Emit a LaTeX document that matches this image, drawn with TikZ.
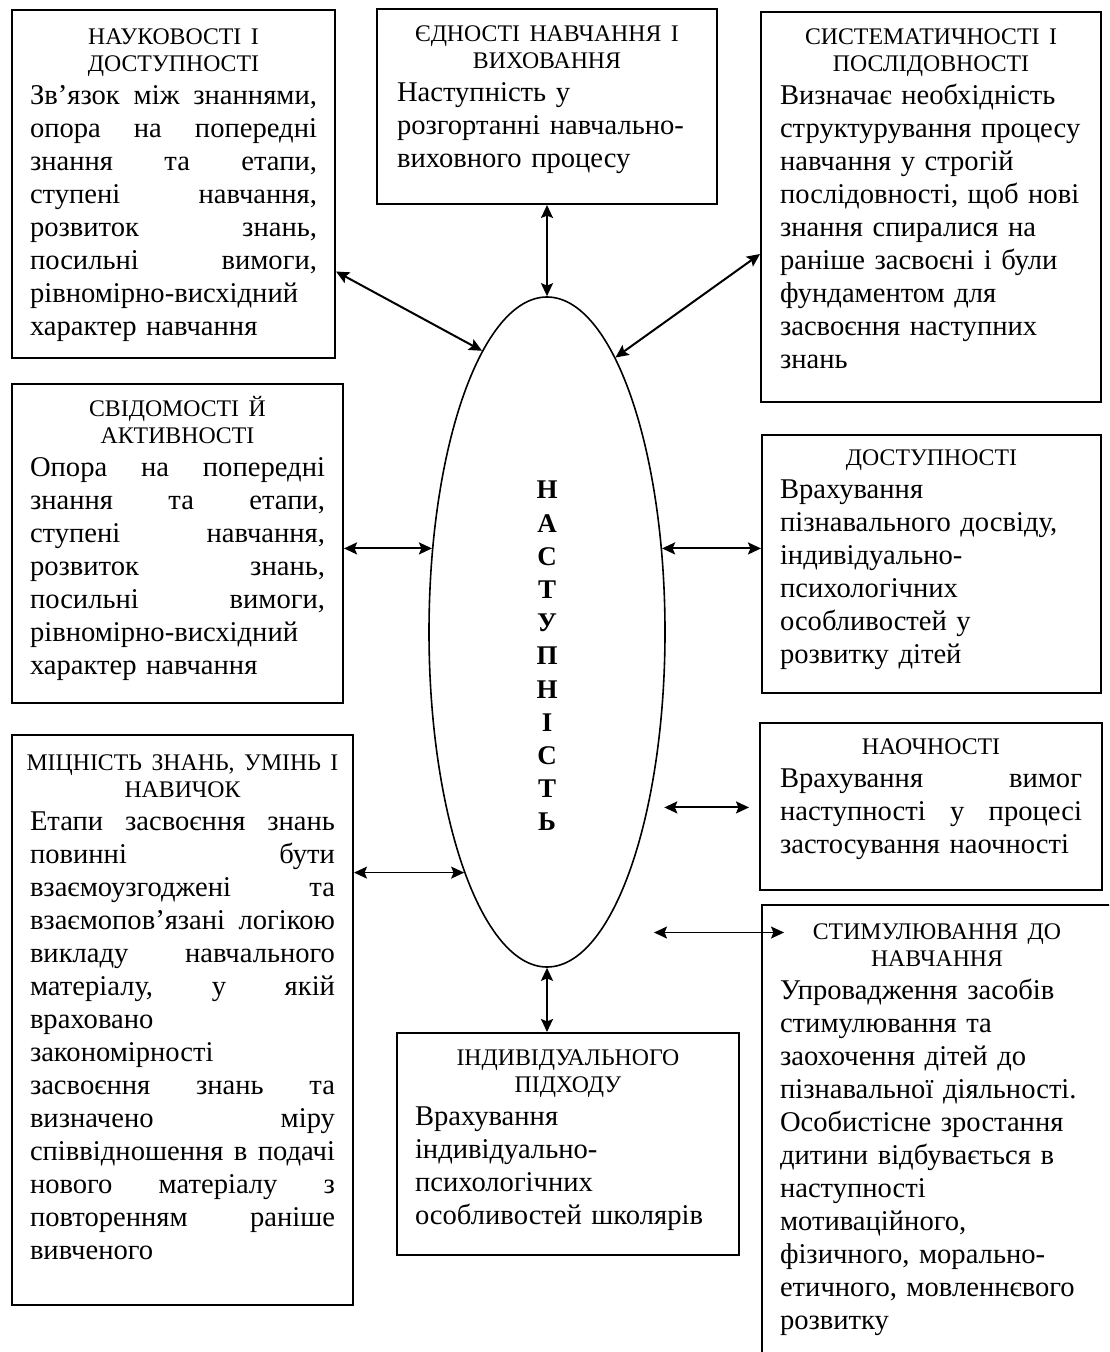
\documentclass[tikz,border=0pt]{standalone}
\usepackage{fontspec}
\setmainfont{Liberation Serif}
\usetikzlibrary{arrows.meta,calc,positioning,shapes.geometric,fit}

\newcommand\hdfont{\fontsize{11.9pt}{13.5pt}\selectfont}
\newcommand\bdfont{\fontsize{14.3pt}{16.5pt}\selectfont}
% lines of a box: title (centred), justified (words split by \hfill), flush left
\newcommand\tline[1]{\hbox to\hsize{\hss\rule{0pt}{9.5pt}#1\hss}}
\newcommand\jline[1]{\hbox to\hsize{#1}}
\newcommand\rline[1]{\hbox to\hsize{#1\hfil}}

\begin{document}
\begin{tikzpicture}[
		x=0.5pt, y=-0.5pt,
		>={Stealth[length=6.5pt,width=6pt,inset=1.2pt]},
		frame/.style={draw, line width=1pt, inner sep=0pt},
		boxtext/.style={anchor=north, inner sep=0pt, text width=#1, font=\bdfont},
		pillar/.style={ellipse, draw, line width=0.8pt, inner sep=0pt,
				minimum width=118pt, minimum height=335pt},
		letters/.style={font=\bfseries\fontsize{13.5pt}{16.6pt}\selectfont,
				align=center, inner sep=0pt},
		link/.style={<->, line width=1pt},
	]
	\useasboundingbox (0,0) rectangle (1109,1352);
	\clip (0,0) rectangle (1109,1352);

	% frames
	\node[frame, fit={(12,10) (335,358)}] (nauk) {};
	\node[frame, fit={(377,9) (717,204)}] (ednist) {};
	\node[frame, fit={(761,12) (1101,402)}] (sist) {};
	\node[frame, fit={(12,384) (343,703)}] (svid) {};
	\node[frame, fit={(762,435) (1101,693)}] (dost) {};
	\node[frame, fit={(12,735) (353,1305)}] (mitsn) {};
	\node[frame, fit={(760,723) (1102,890)}] (naoch) {};
	\node[frame, fit={(762,905) (1112,1370)}] (stim) {};
	\node[frame, fit={(397,1033) (739,1255)}] (indiv) {};

	\node[pillar] (nast) at (547,632) {};
	\node[letters] (nast-t) at ([yshift=-12pt]nast.center)
	{Н\\А\\С\\Т\\У\\П\\Н\\І\\С\\Т\\Ь};

	% texts
	\node[boxtext=143.5pt, below=8.3pt of nauk.north] (nauk-t) {%
		{\hdfont\tline{НАУКОВОСТІ І}
			\tline{ДОСТУПНОСТІ}\par}
		\jline{Зв’язок\hfill між\hfill знаннями,}
		\jline{опора\hfill на\hfill попередні}
		\jline{знання\hfill та\hfill етапи,}
		\jline{ступені\hfill навчання,}
		\jline{розвиток\hfill знань,}
		\jline{посильні\hfill вимоги,}
		\rline{рівномірно-висхідний}
		\rline{характер навчання}};

	\node[boxtext=150pt, below=7.1pt of ednist.north] (ednist-t) {%
		{\hdfont\tline{ЄДНОСТІ НАВЧАННЯ І}
			\tline{ВИХОВАННЯ}\par}
		\rline{Наступність у}
		\rline{розгортанні навчально-}
		\rline{виховного процесу}};

	\node[boxtext=151pt, below=7.2pt of sist.north] (sist-t) {%
		{\hdfont\tline{СИСТЕМАТИЧНОСТІ І}
			\tline{ПОСЛІДОВНОСТІ}\par}
		\rline{Визначає необхідність}
		\rline{структурування процесу}
		\rline{навчання у строгій}
		\rline{послідовності, щоб нові}
		\rline{знання спиралися на}
		\rline{раніше засвоєні і були}
		\rline{фундаментом для}
		\rline{засвоєння наступних}
		\rline{знань}};

	\node[boxtext=147.5pt, below=6.5pt of svid.north] (svid-t) {%
		{\hdfont\tline{СВІДОМОСТІ Й}
			\tline{АКТИВНОСТІ}\par}
		\jline{Опора\hfill на\hfill попередні}
		\jline{знання\hfill та\hfill етапи,}
		\jline{ступені\hfill навчання,}
		\jline{розвиток\hfill знань,}
		\jline{посильні\hfill вимоги,}
		\rline{рівномірно-висхідний}
		\rline{характер навчання}};

	\node[boxtext=151.5pt, below=6pt of dost.north] (dost-t) {%
		{\hdfont\tline{ДОСТУПНОСТІ}\par}
		\rline{Врахування}
		\rline{пізнавального досвіду,}
		\rline{індивідуально-}
		\rline{психологічних}
		\rline{особливостей у}
		\rline{розвитку дітей}};

	\node[boxtext=152.5pt, below=8.3pt of mitsn.north] (mitsn-t) {%
		{\hdfont\tline{МІЦНІСТЬ ЗНАНЬ, УМІНЬ І}
			\tline{НАВИЧОК}\par}
		\jline{Етапи\hfill засвоєння\hfill знань}
		\jline{повинні\hfill бути}
		\jline{взаємоузгоджені\hfill та}
		\jline{взаємопов’язані\hfill логікою}
		\jline{викладу\hfill навчального}
		\jline{матеріалу,\hfill у\hfill якій}
		\rline{враховано}
		\rline{закономірності}
		\jline{засвоєння\hfill знань\hfill та}
		\jline{визначено\hfill міру}
		\jline{співвідношення\hfill в\hfill подачі}
		\jline{нового\hfill матеріалу\hfill з}
		\jline{повторенням\hfill раніше}
		\rline{вивченого}};

	\node[boxtext=151pt, below=6.3pt of naoch.north] (naoch-t) {%
		{\hdfont\tline{НАОЧНОСТІ}\par}
		\jline{Врахування\hfill вимог}
		\jline{наступності\hfill у\hfill процесі}
		\rline{застосування наочності}};

	\node[boxtext=157pt, below=8.1pt of stim.north] (stim-t) {%
		{\hdfont\tline{СТИМУЛЮВАННЯ ДО}
			\tline{НАВЧАННЯ}\par}
		\rline{Упровадження засобів}
		\rline{стимулювання та}
		\rline{заохочення дітей до}
		\rline{пізнавальної діяльності.}
		\rline{Особистісне зростання}
		\rline{дитини відбувається в}
		\rline{наступності}
		\rline{мотиваційного,}
		\rline{фізичного, морально-}
		\rline{етичного, мовленнєвого}
		\rline{розвитку}};

	\node[boxtext=153pt, below=7.1pt of indiv.north] (indiv-t) {%
		{\hdfont\tline{ІНДИВІДУАЛЬНОГО}
			\tline{ПІДХОДУ}\par}
		\rline{Врахування}
		\rline{індивідуально-}
		\rline{психологічних}
		\rline{особливостей школярів}};

	% links
	\draw[link] ($(nauk.north east)!0.75!(nauk.south east)$) -- (nast.103);
	\draw[link] (ednist.south) -- (nast.north);
	\draw[link] ($(sist.north west)!0.62!(sist.south west)$) -- (nast.76);
	\draw[link] (svid.east |- nast.144) -- (nast.144);
	\draw[link] (nast.36) -- (dost.west |- nast.36);
	\draw[link, line width=0.7pt] (mitsn.east |- nast.251) -- (nast.251);
	\draw[link, shorten <=8pt, shorten >=5pt] (nast.300) -- (naoch.west |- nast.300);
	\draw[link, line width=0.8pt, shorten <=27pt, shorten >=-11.5pt]
	(nast.280) -- (stim.west |- nast.280);
	\draw[link] (nast.south) -- (nast.south |- indiv.north);

\end{tikzpicture}
\end{document}
